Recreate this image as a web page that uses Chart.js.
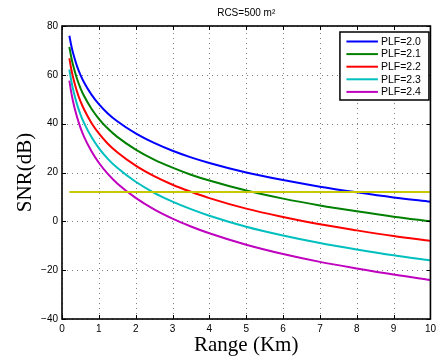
<!DOCTYPE html>
<html>
<head>
<meta charset="utf-8">
<script src="https://cdn.jsdelivr.net/npm/chart.js@4.4.1/dist/chart.umd.min.js"></script>
<style>
  html, body { margin: 0; padding: 0; background: #fff; }
  #wrap { width: 440px; height: 359px; }
</style>
</head>
<body>
<div id="wrap"><canvas id="c" width="440" height="359"></canvas></div>
<script>
// ---- data ----
const rangeKm = [0.2, 0.25, 0.3, 0.4, 0.5, 0.6, 0.8, 1, 1.25, 1.5, 2, 2.5, 3, 3.5, 4, 5, 6, 7, 8, 9, 10];
const snrPLF20 = [76.0, 72.1, 68.9, 63.9, 60.0, 56.9, 51.9, 48.0, 44.1, 41.0, 36.0, 32.1, 28.9, 26.2, 23.9, 20.0, 16.9, 14.2, 11.9, 9.8, 8.0];
const snrPLF21 = [71.4, 67.3, 64.0, 58.7, 54.6, 51.3, 46.1, 42.0, 37.9, 34.6, 29.4, 25.3, 22.0, 19.1, 16.7, 12.6, 9.3, 6.5, 4.1, 1.9, 0.0];
const snrPLF22 = [66.8, 62.5, 59.0, 53.5, 49.2, 45.8, 40.3, 36.0, 31.7, 28.3, 22.8, 18.5, 15.0, 12.1, 9.5, 5.2, 1.8, -1.2, -3.7, -6.0, -8.0];
const snrPLF23 = [62.2, 57.7, 54.1, 48.3, 43.8, 40.2, 34.5, 30.0, 25.5, 21.9, 16.2, 11.7, 8.1, 5.0, 2.3, -2.2, -5.8, -8.9, -11.5, -13.9, -16.0];
const snrPLF24 = [57.6, 52.9, 49.1, 43.1, 38.4, 34.6, 28.7, 24.0, 19.3, 15.5, 9.6, 4.9, 1.1, -2.1, -4.9, -9.6, -13.4, -16.6, -19.3, -21.8, -24.0];
const seriesLabels = ['PLF=2.0', 'PLF=2.1', 'PLF=2.2', 'PLF=2.3', 'PLF=2.4'];
const thresholdRange = [0.2, 10];
const thresholdSNR = [12, 12];
const xTicks = [0, 1, 2, 3, 4, 5, 6, 7, 8, 9, 10];
const yTicks = [-40, -20, 0, 20, 40, 60, 80];
const titleText = 'RCS=500 m\u00B2';
const xTitle = 'Range (Km)';
const yTitle = 'SNR(dB)';

// ---- styling ----
const colors = ['rgb(0,0,255)', 'rgb(0,128,0)', 'rgb(255,0,0)', 'rgb(0,191,191)', 'rgb(191,0,191)'];
const seriesValues = [snrPLF20, snrPLF21, snrPLF22, snrPLF23, snrPLF24];

const toPoints = (xs, ys) => xs.map((x, i) => ({ x: x, y: ys[i] }));

const datasets = seriesValues.map((vals, i) => ({
  label: seriesLabels[i],
  data: toPoints(rangeKm, vals),
  borderColor: colors[i],
  backgroundColor: colors[i],
  borderWidth: 2,
  pointRadius: 0,
  fill: false,
  cubicInterpolationMode: 'monotone'
}));
datasets.push({
  label: 'threshold',
  data: toPoints(thresholdRange, thresholdSNR),
  borderColor: 'rgb(200,200,0)',
  borderWidth: 2,
  pointRadius: 0,
  fill: false,
  order: -1,
  isThreshold: true
});

const frameAndLegend = {
  id: 'frameAndLegend',
  afterLayout(chart) {
    const t = chart.titleBlock;
    const a = chart.chartArea;
    if (t) { t.left = a.left; t.right = a.right; t.width = a.right - a.left; }
  },
  beforeDatasetsDraw(chart) {
    // dotted grid through the scales
    const ctx = chart.ctx;
    const a = chart.chartArea;
    const xs = chart.scales.x, ys = chart.scales.y;
    ctx.save();
    ctx.strokeStyle = 'rgba(0,0,0,0.5)';
    ctx.lineWidth = 1;
    ctx.setLineDash([1, 4]);
    ctx.beginPath();
    xTicks.forEach(v => {
      const px = Math.round(xs.getPixelForValue(v)) + 0.5;
      ctx.moveTo(px, a.bottom); ctx.lineTo(px, a.top);
    });
    yTicks.forEach(v => {
      const py = Math.round(ys.getPixelForValue(v)) + 0.5;
      ctx.moveTo(a.left, py); ctx.lineTo(a.right, py);
    });
    ctx.stroke();
    ctx.restore();
  },
  afterDraw(chart) {
    const ctx = chart.ctx;
    const a = chart.chartArea;
    const xs = chart.scales.x, ys = chart.scales.y;
    ctx.save();
    // axes box
    ctx.strokeStyle = '#000';
    ctx.lineWidth = 1.6;
    ctx.strokeRect(a.left, a.top, a.right - a.left, a.bottom - a.top);
    // inward ticks on all four sides
    ctx.lineWidth = 1;
    const tl = 4;
    ctx.beginPath();
    xTicks.forEach(v => {
      const px = Math.round(xs.getPixelForValue(v)) + 0.5;
      ctx.moveTo(px, a.bottom); ctx.lineTo(px, a.bottom - tl);
      ctx.moveTo(px, a.top); ctx.lineTo(px, a.top + tl);
    });
    yTicks.forEach(v => {
      const py = Math.round(ys.getPixelForValue(v)) + 0.5;
      ctx.moveTo(a.left, py); ctx.lineTo(a.left + tl, py);
      ctx.moveTo(a.right, py); ctx.lineTo(a.right - tl, py);
    });
    ctx.stroke();

    // legend box
    const items = chart.data.datasets.filter(d => !d.isThreshold);
    const boxR = a.right - 1.5, boxT = a.top + 6, boxW = 89, rowH = 12.6;
    const boxL = boxR - boxW, boxH = 68;
    ctx.fillStyle = '#fff';
    ctx.fillRect(boxL, boxT, boxW, boxH);
    ctx.strokeStyle = '#000';
    ctx.lineWidth = 1.5;
    ctx.strokeRect(boxL, boxT, boxW, boxH);
    ctx.font = '10.5px "Liberation Sans", Arial, sans-serif';
    ctx.textBaseline = 'middle';
    ctx.textAlign = 'left';
    items.forEach((d, i) => {
      const y = boxT + 9.5 + i * rowH;
      ctx.strokeStyle = d.borderColor;
      ctx.lineWidth = 2;
      ctx.beginPath();
      ctx.moveTo(boxL + 6.5, y); ctx.lineTo(boxL + 38, y);
      ctx.stroke();
      ctx.fillStyle = '#000';
      ctx.fillText(d.label, boxL + 41, y + 0.5);
    });
    ctx.restore();
  }
};

const minusFmt = v => String(v).replace('-', '\u2212');

new Chart(document.getElementById('c'), {
  type: 'line',
  data: { datasets: datasets },
  options: {
    responsive: false,
    animation: false,
    devicePixelRatio: 1,
    layout: { padding: { left: 0, right: 7, top: 0, bottom: 0 } },
    plugins: {
      legend: { display: false },
      tooltip: { enabled: false },
      title: {
        display: true,
        text: titleText,
        color: '#000',
        font: { family: '"Liberation Sans", Arial, sans-serif', size: 10, weight: 'normal', lineHeight: 1.2 },
        padding: { top: 7.5, bottom: 6.5 }
      }
    },
    scales: {
      x: {
        type: 'linear',
        min: 0, max: 10,
        afterFit(s) { s.height = 40; },
        afterBuildTicks(s) { s.ticks = xTicks.map(v => ({ value: v })); },
        ticks: {
          color: '#000',
          padding: 4,
          maxRotation: 0,
          callback: minusFmt,
          font: { family: '"Liberation Sans", Arial, sans-serif', size: 10 }
        },
        grid: { display: false, drawTicks: false },
        border: { display: false },
        title: {
          display: true,
          text: xTitle,
          color: '#000',
          font: { family: '"Liberation Serif", "Times New Roman", serif', size: 21, lineHeight: 1.2 },
          padding: { top: 0, bottom: 0.5 }
        }
      },
      y: {
        type: 'linear',
        min: -40, max: 80,
        afterFit(s) { s.width = 62; },
        afterBuildTicks(s) { s.ticks = yTicks.map(v => ({ value: v })); },
        ticks: {
          color: '#000',
          padding: 4,
          callback: minusFmt,
          font: { family: '"Liberation Sans", Arial, sans-serif', size: 10 }
        },
        grid: { display: false, drawTicks: false },
        border: { display: false },
        title: {
          display: true,
          text: yTitle,
          color: '#000',
          font: { family: '"Liberation Serif", "Times New Roman", serif', size: 21, lineHeight: 1.2 },
          padding: { top: 13.3, bottom: 0 }
        }
      }
    }
  },
  plugins: [frameAndLegend]
});
</script>
</body>
</html>
